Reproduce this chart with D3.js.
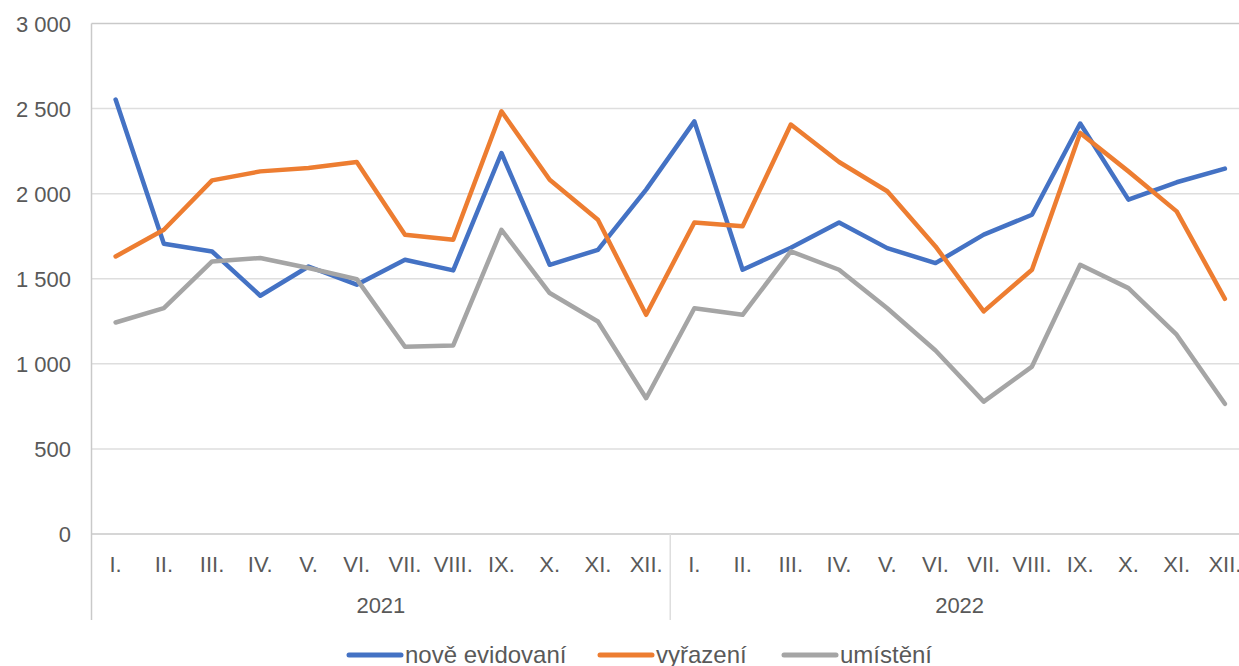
<!DOCTYPE html>
<html>
<head>
<meta charset="utf-8">
<script src="https://cdn.jsdelivr.net/npm/d3@7"></script>
<style>
  html, body { margin: 0; padding: 0; background: #fff; }
  svg { display: block; font-family: "Liberation Sans", Arial, sans-serif; }
</style>
</head>
<body>
<svg id="chart" width="1239" height="666"></svg>
<script>
const months = ["I.", "II.", "III.", "IV.", "V.", "VI.", "VII.", "VIII.", "IX.", "X.", "XI.", "XII."];
const years = ["2021", "2022"];

const noveEvidovani = [2553, 1706, 1660, 1400, 1572, 1465, 1612, 1549, 2239, 1582, 1670, 2024,
                       2425, 1553, 1682, 1831, 1680, 1592, 1759, 1876, 2412, 1965, 2067, 2147];
const vyrazeni = [1631, 1788, 2078, 2131, 2151, 2186, 1759, 1729, 2484, 2082, 1847, 1288,
                  1831, 1808, 2406, 2186, 2014, 1690, 1308, 1553, 2357, 2131, 1896, 1382];
const umisteni = [1243, 1327, 1602, 1622, 1563, 1498, 1100, 1108, 1788, 1416, 1249, 798,
                  1327, 1288, 1661, 1553, 1327, 1078, 778, 984, 1582, 1445, 1171, 765];

const yTicks = [0, 500, 1000, 1500, 2000, 2500, 3000];

const series = [
  { name: "nově evidovaní", color: "#4472c4", values: noveEvidovani },
  { name: "vyřazení", color: "#ed7d31", values: vyrazeni },
  { name: "umístění", color: "#a5a5a5", values: umisteni }
];

const keys = years.flatMap(y => months.map(m => y + "-" + m));

const margin = { left: 91.5, right: 1249, top: 23.5, bottom: 534 };
const $svg = d3.select("#chart");

const x = d3.scaleBand().domain(keys).range([margin.left, margin.right]);
const y = d3.scaleLinear().domain([0, 3000]).range([margin.bottom, margin.top]);

const fmt = v => d3.format(",")(v).replace(/,/g, " ");

// gridlines
$svg.append("g")
  .selectAll("line")
  .data(yTicks.filter(t => t > 0))
  .join("line")
  .attr("x1", margin.left)
  .attr("x2", 1239)
  .attr("y1", d => y(d))
  .attr("y2", d => y(d))
  .attr("stroke", d => d === 3000 ? "#c9c9c9" : "#dedede")
  .attr("stroke-width", 1.5);

// y labels
$svg.append("g")
  .selectAll("text")
  .data(yTicks)
  .join("text")
  .attr("x", 71)
  .attr("y", d => y(d) + 8)
  .attr("text-anchor", "end")
  .attr("fill", "#595959")
  .attr("font-size", 22)
  .text(fmt);

// axes lines
const axisColor = "#c9c9c9";
$svg.append("line")
  .attr("x1", margin.left).attr("x2", 1239)
  .attr("y1", y(0)).attr("y2", y(0))
  .attr("stroke", axisColor).attr("stroke-width", 1.5);
$svg.append("line")
  .attr("x1", margin.left).attr("x2", margin.left)
  .attr("y1", margin.top).attr("y2", 620)
  .attr("stroke", axisColor).attr("stroke-width", 1.5);
$svg.append("line")
  .attr("x1", x(keys[12])).attr("x2", x(keys[12]))
  .attr("y1", y(0)).attr("y2", 620)
  .attr("stroke", "#dedede").attr("stroke-width", 1.5);

// category labels
$svg.append("g")
  .selectAll("text")
  .data(keys)
  .join("text")
  .attr("x", d => x(d) + x.bandwidth() / 2)
  .attr("y", 572)
  .attr("text-anchor", "middle")
  .attr("fill", "#595959")
  .attr("font-size", 22)
  .text(d => d.split("-")[1]);

// year labels
$svg.append("g")
  .selectAll("text")
  .data(years)
  .join("text")
  .attr("x", (d, i) => (x(keys[i * 12]) + x(keys[i * 12 + 11]) + x.bandwidth()) / 2)
  .attr("y", 613)
  .attr("text-anchor", "middle")
  .attr("fill", "#595959")
  .attr("font-size", 22)
  .text(d => d);

// lines
const line = d3.line()
  .x((d, i) => x(keys[i]) + x.bandwidth() / 2)
  .y(d => y(d));

$svg.append("g")
  .selectAll("path")
  .data(series)
  .join("path")
  .attr("d", d => line(d.values))
  .attr("fill", "none")
  .attr("stroke", d => d.color)
  .attr("stroke-width", 4.5)
  .attr("stroke-linejoin", "round")
  .attr("stroke-linecap", "round");

// legend
const legendX = [349, 600, 784];
const $legend = $svg.append("g")
  .selectAll("g")
  .data(series)
  .join("g")
  .attr("transform", (d, i) => `translate(${legendX[i]},655)`);

$legend.append("line")
  .attr("x1", 0).attr("x2", 52)
  .attr("stroke", d => d.color)
  .attr("stroke-width", 5)
  .attr("stroke-linecap", "round");

$legend.append("text")
  .attr("x", 56)
  .attr("y", 8)
  .attr("fill", "#595959")
  .attr("font-size", 24)
  .text(d => d.name);
</script>
</body>
</html>
